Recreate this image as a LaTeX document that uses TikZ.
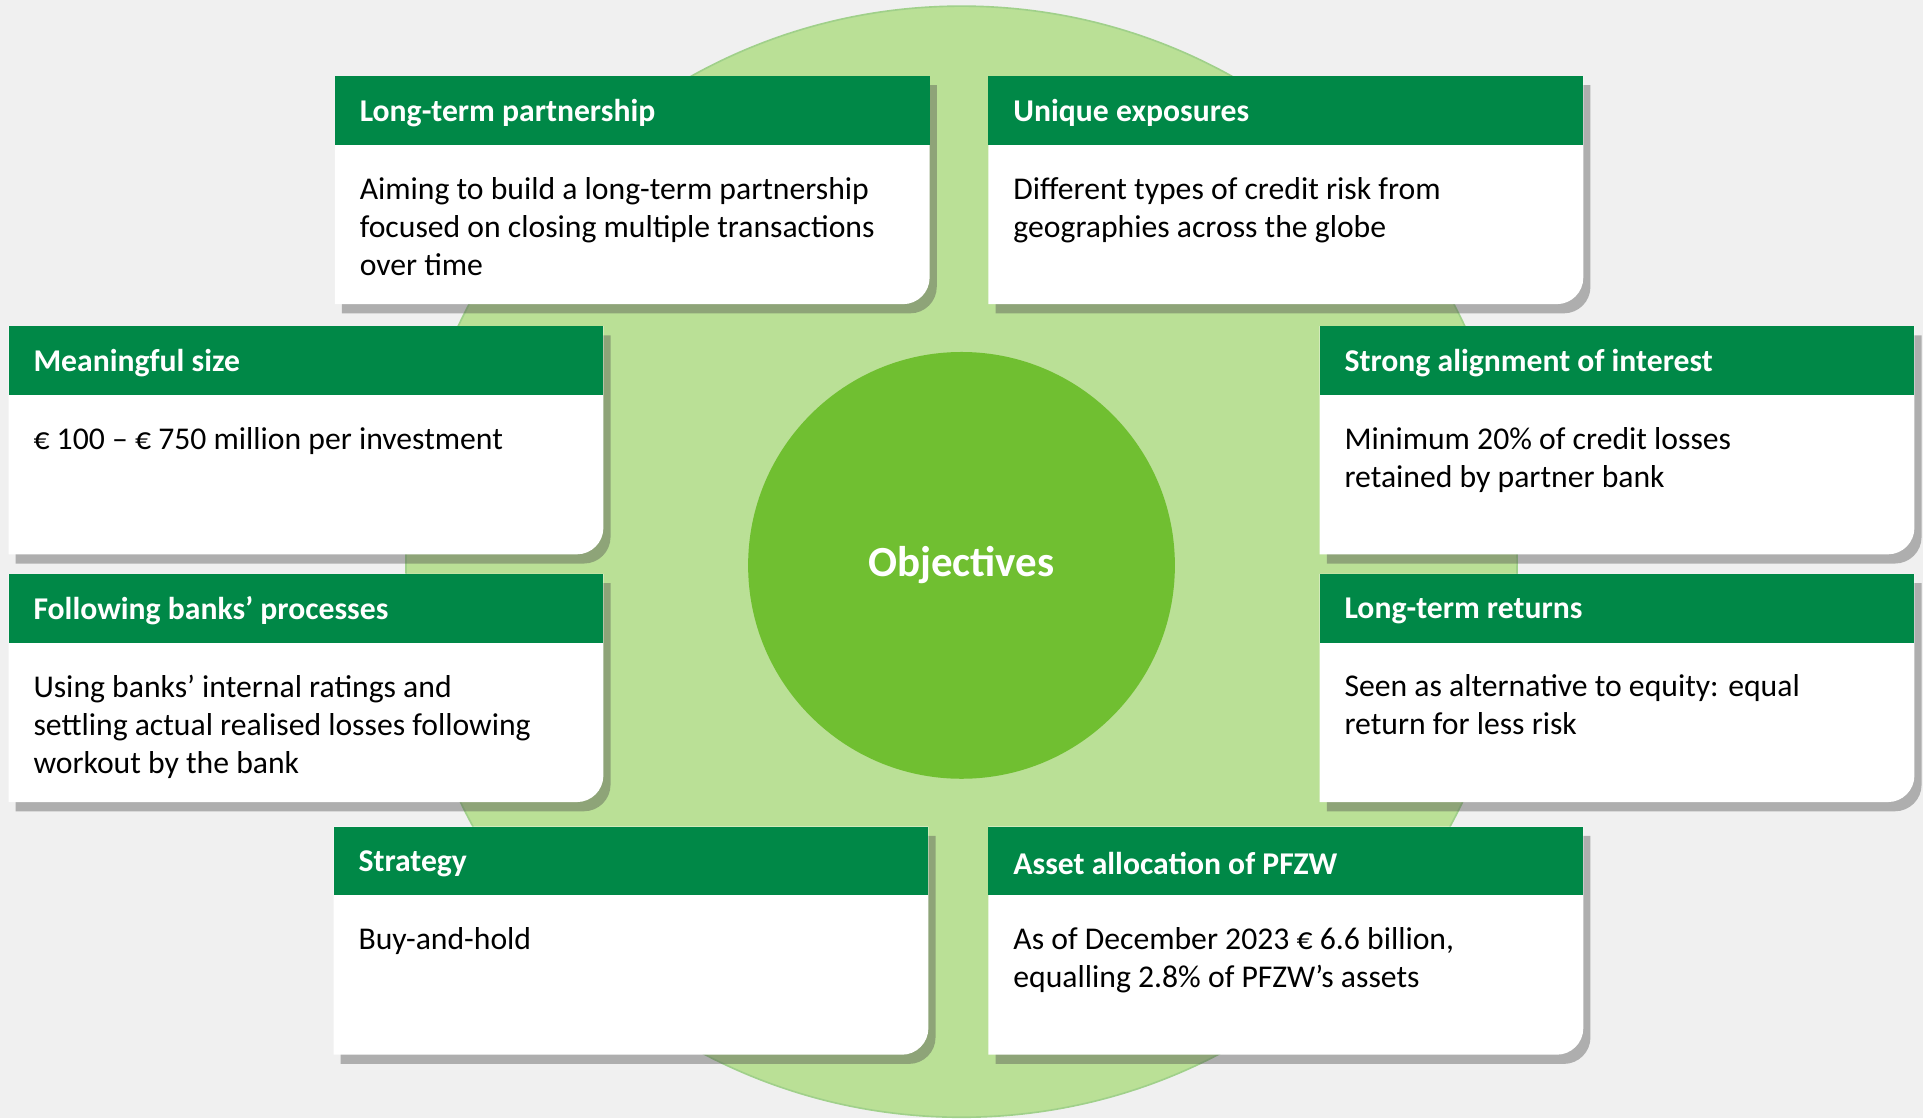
\documentclass[tikz,border=0pt]{standalone}
\usepackage{fontspec}
\setmainfont{Carlito}
\usetikzlibrary{shadows}
\definecolor{pagegray}{RGB}{240,240,240}
\definecolor{palegreen}{RGB}{186,224,150}
\definecolor{rimgreen}{RGB}{160,208,138}
\definecolor{midgreen}{RGB}{112,191,49}
\definecolor{headgreen}{RGB}{0,136,71}
\tikzset{
    card/.style={fill=white,drop shadow={shadow xshift=3.5pt,shadow yshift=-4.5pt,opacity=.4,fill=black!70}},
    headtext/.style={anchor=west,inner sep=0pt,text=white,font=\fontsize{15.5}{18.6}\selectfont\bfseries},
    bodytext/.style={anchor=north west,inner sep=0pt,align=left,font=\fontsize{15.5}{18.6}\selectfont},
}
\begin{document}
\begin{tikzpicture}[x=0.6pt,y=-0.6pt]
    \fill[pagegray] (0,0) rectangle (1568,912);
    \clip (0,0) rectangle (1568,912);
    \fill[palegreen,draw=rimgreen,line width=0.8pt] (784,458) circle (271.8pt);
    \node[circle,fill=midgreen,minimum size=208.8pt,text=white,font=\fontsize{21}{25}\selectfont\bfseries] (obj) at (784,461) {Objectives};
    % the eight cards round the circle
    \foreach \x/\y/\n/\title/\body in {
        273/62/partner/Long-term partnership/{Aiming to build a long-term partnership\\focused on closing multiple transactions\\over time},
        806/62/exposure/Unique exposures/{Different types of credit risk from\\geographies across the globe},
        7/266/size/Meaningful size/{€ 100 – € 750 million per investment},
        1076/266/align/Strong alignment of interest/{Minimum 20\% of credit losses\\retained by partner bank},
        7/468/process/Following banks’ processes/{Using banks’ internal ratings and\\settling actual realised losses following\\workout by the bank},
        1076/468/returns/Long-term returns/{Seen as alternative to equity: equal\\return for less risk},
        272/674/strategy/Strategy/{Buy-and-hold},
        806/674/alloc/Asset allocation of PFZW/{As of December 2023 € 6.6 billion,\\equalling 2.8\% of PFZW’s assets}} {
        \draw[card,draw=none] (\x,\y) -- ++(485,0) [rounded corners=13pt] -- ++(0,186) [sharp corners] -- ++(-485,0) -- cycle;
        \fill[headgreen] (\x,\y) rectangle ++(485,56);
        \node[headtext] (\n-title) at (\x+20,\y+30) {\title};
        \node[bodytext] (\n-text) at (\x+20,\y+82) {\body};
    }
\end{tikzpicture}
\end{document}
